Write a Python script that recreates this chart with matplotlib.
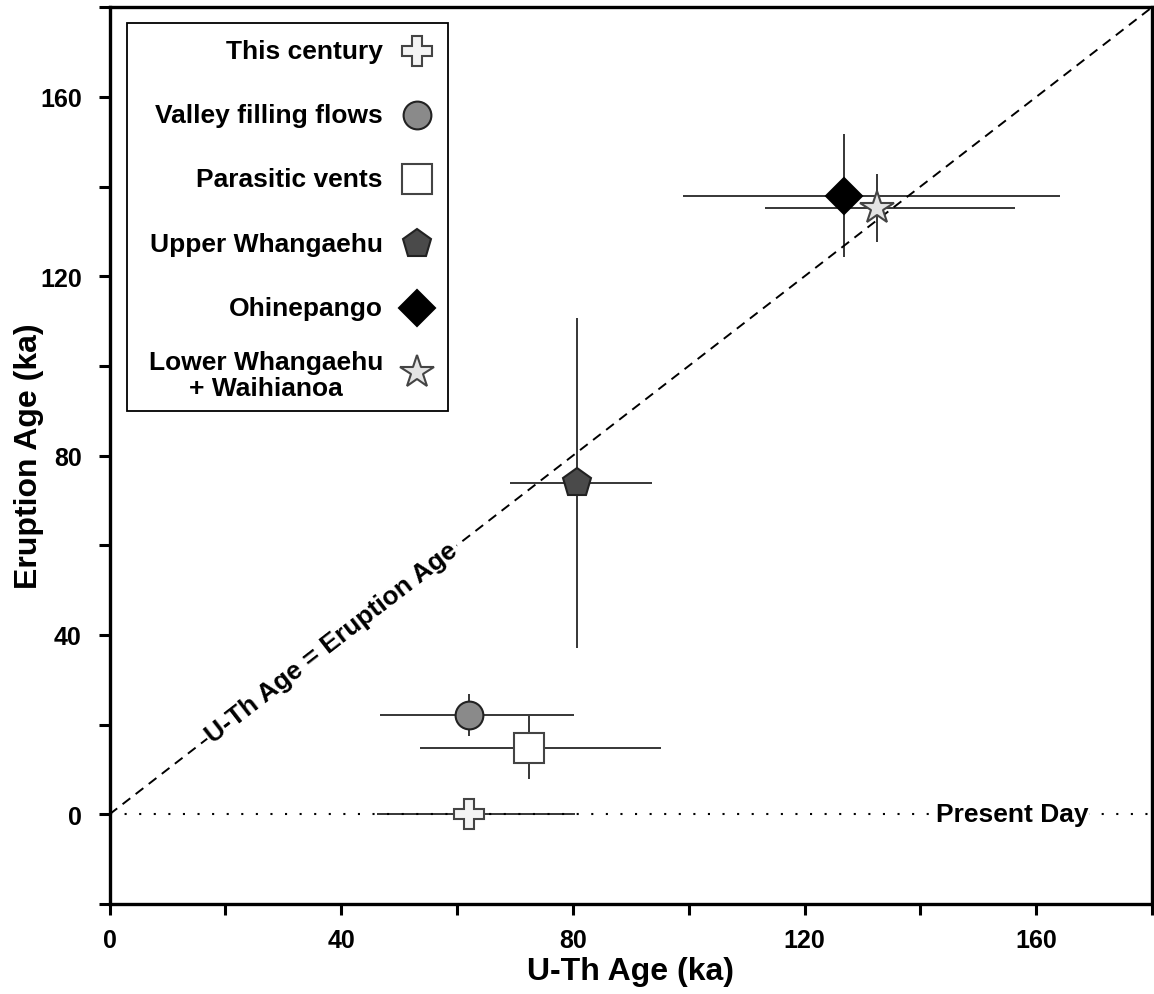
import numpy as np
import matplotlib
matplotlib.use("Agg")
import matplotlib.pyplot as plt
from matplotlib.patches import Rectangle
from matplotlib.ticker import MultipleLocator

plt.rcParams['font.family'] = ['Liberation Sans', 'DejaVu Sans']
plt.rcParams['font.weight'] = 'bold'

# Sample groups: U-Th age vs eruption age (ka)
groups = ["This century", "Valley filling flows", "Parasitic vents",
          "Upper Whangaehu", "Ohinepango", "Lower Whangaehu\n+ Waihianoa"]
uth_age = [62.0, 62.0, 72.4, 80.7, 126.9, 132.6]
eruption_age = [0.0, 22.2, 14.9, 73.9, 138.0, 135.3]
uth_err_low = [15.8, 15.3, 18.8, 11.6, 27.8, 19.5]
uth_err_high = [18.4, 18.2, 22.9, 13.0, 37.3, 23.8]
eruption_err = [0.0, 4.7, 7.0, 36.8, 13.8, 7.6]

markers = ['P', 'o', 's', 'p', 'D', '*']
marker_sizes = [21, 20, 21, 21, 18, 25]
face_colors = ['#f4f4f4', '#8a8a8a', '#ffffff', '#4a4a4a', '#000000', '#e4e4e4']
edge_colors = ['#444444', '#222222', '#444444', '#222222', '#000000', '#444444']

W, H = 1154, 995
fig = plt.figure(figsize=(W / 100, H / 100), dpi=100)
ax_left, ax_right, ax_top, ax_bottom = 109.5, 1152.0, 8.3, 905.0
ax = fig.add_axes([ax_left / W, 1 - ax_bottom / H,
                   (ax_right - ax_left) / W, (ax_bottom - ax_top) / H])
ax.set_xlim(0, 180)
ax.set_ylim(-20, 180)


def axfrac(px, py):
    """Pixel position (from top-left of the figure) to axes fraction."""
    return ((px - ax_left) / (ax_right - ax_left),
            (ax_bottom - py) / (ax_bottom - ax_top))


# 1:1 reference line and present-day line
ax.plot([0, 180], [0, 180], color='black', lw=1.4, ls=(0, (5, 3.5)), zorder=1)
ax.plot([0, 180], [0, 0], color='black', lw=1.5, ls=(0, (1, 6)), zorder=1)

# Error bars
ax.errorbar(uth_age, eruption_age,
            xerr=[uth_err_low, uth_err_high], yerr=eruption_err,
            fmt='none', ecolor='black', elinewidth=1.1, capsize=0, zorder=2)

for i, name in enumerate(groups):
    ax.plot(uth_age[i], eruption_age[i], ls='none', marker=markers[i],
            ms=marker_sizes[i], mfc=face_colors[i], mec=edge_colors[i],
            mew=1.5, zorder=3)

# Label on the 1:1 line, rotated to follow it on screen
fig.canvas.draw()
p0 = ax.transData.transform((0, 0))
p1 = ax.transData.transform((180, 180))
angle = np.degrees(np.arctan2(p1[1] - p0[1], p1[0] - p0[0]))
ax.text(38.4, 38.4, "U-Th Age = Eruption Age", rotation=angle,
        rotation_mode='anchor', ha='center', va='center', fontsize=19,
        fontweight='bold', zorder=2,
        bbox=dict(facecolor='white', edgecolor='none', pad=1.5))

ax.text(155.8, 0, "Present Day", ha='center', va='center', fontsize=19,
        fontweight='bold', zorder=2,
        bbox=dict(facecolor='white', edgecolor='none', pad=1.0))

# Key: labels right-aligned against their symbols
x0, y0 = axfrac(127, 412)
x1, y1 = axfrac(448, 24)
ax.add_patch(Rectangle((x0, y0), x1 - x0, y1 - y0, transform=ax.transAxes,
                       facecolor='white', edgecolor='black', lw=1.3,
                       zorder=5))
row_py = [51.7 + 64.3 * i for i in range(5)] + [376.0]
for i, name in enumerate(groups):
    tx, ty = axfrac(383, row_py[i])
    mx, my = axfrac(416.7, row_py[i] - (3 if i == 5 else 0))
    ax.text(tx, ty, name, transform=ax.transAxes, ha='right', va='center',
            multialignment='center', linespacing=1.12, fontsize=19,
            fontweight='bold', zorder=6)
    ax.plot([mx], [my], transform=ax.transAxes, ls='none', marker=markers[i],
            ms=marker_sizes[i], mfc=face_colors[i], mec=edge_colors[i],
            mew=1.5, zorder=6, clip_on=False)

# Axes styling
for s in ax.spines.values():
    s.set_linewidth(2.4)
ax.xaxis.set_major_locator(MultipleLocator(40))
ax.xaxis.set_minor_locator(MultipleLocator(20))
ax.yaxis.set_major_locator(MultipleLocator(40))
ax.yaxis.set_minor_locator(MultipleLocator(20))
ax.tick_params(which='both', direction='out', length=8, width=2.2)
ax.tick_params(axis='x', which='major', pad=9, labelsize=18)
ax.tick_params(axis='y', which='major', pad=12, labelsize=18)
for lbl in ax.get_xticklabels() + ax.get_yticklabels():
    lbl.set_fontweight('bold')

ax.set_xlabel("U-Th Age (ka)", fontsize=23, fontweight='bold', labelpad=3)
ax.set_ylabel("Eruption Age (ka)", fontsize=23, fontweight='bold', labelpad=-3)

fig.savefig("out.png", dpi=100)
